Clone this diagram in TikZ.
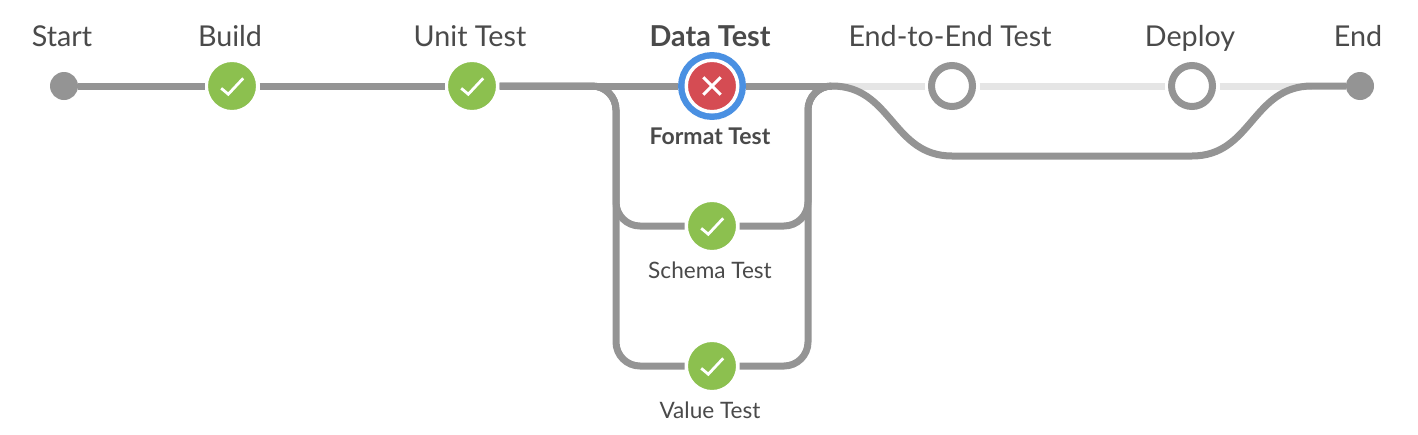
\documentclass[tikz,border=0pt]{standalone}
\usepackage{fontspec}
\setmainfont{Lato}
\definecolor{pipegray}{HTML}{949494}
\definecolor{fainted}{HTML}{E5E5E5}
\definecolor{okgreen}{HTML}{8CC04F}
\definecolor{badred}{HTML}{D54C53}
\definecolor{ringblue}{HTML}{4A90E2}
\definecolor{labelink}{HTML}{4A4A4A}
\tikzset{
  pipe/.style={draw=pipegray,line width=7pt},
  pipefaint/.style={draw=fainted,line width=7pt},
  enddot/.style={circle,fill=pipegray,minimum size=28pt,inner sep=0pt,outer sep=0pt},
  okdot/.style={circle,fill=okgreen,draw=white,line width=3.5pt,minimum size=51.5pt,inner sep=0pt,
    path picture={\draw[white,line width=2.8pt,shift={(path picture bounding box.center)}] (-10.8,2.3) -- (-3.7,8.2) -- (11.2,-7.7);}},
  baddot/.style={circle,fill=badred,draw=white,line width=3.5pt,minimum size=51.5pt,inner sep=0pt,outer sep=8pt,
    preaction={draw=ringblue,line width=16.4pt},
    path picture={\draw[white,line width=3pt,shift={(path picture bounding box.center)}] (-8.7,-8.7) -- (8.7,8.7) (-8.7,8.7) -- (8.7,-8.7);}},
  todot/.style={circle,fill=white,draw=pipegray,line width=7pt,minimum size=41pt,inner sep=0pt,outer sep=7pt,
    preaction={draw=white,line width=14pt}},
  toplabel/.style={anchor=base,inner sep=0pt,text=labelink,font=\fontsize{28.7}{32}\selectfont},
  sublabel/.style={anchor=base,inner sep=0pt,text=labelink,font=\fontsize{22.6}{26}\selectfont},
}
\begin{document}
\begin{tikzpicture}[x=1pt,y=-1pt]
\useasboundingbox (0,0) rectangle (1418,434);
\fill[white] (0,0) rectangle (1418,434);
% named nodes
\node[enddot] (start) at (64,86) {};
\node[okdot] (build) at (232,86) {};
\node[okdot] (unit) at (472,86) {};
\node[baddot] (data) at (712,86) {};
\node[okdot] (schema) at (712,226) {};
\node[okdot] (value) at (712,366) {};
\node[todot] (e2e) at (952,86) {};
\node[todot] (deploy) at (1192,86) {};
\node[enddot] (finish) at (1360,86) {};
\coordinate (lx) at (616,0);
\coordinate (rx) at (808,0);
\coordinate (join) at (832,86);
\coordinate (rejoin) at (1312,86);
\coordinate (skipA) at (952,156);
\coordinate (skipB) at (1192,156);
% connectors
\draw[pipe] (start) -- (build);
\draw[pipe] (build) -- (unit);
\draw[pipe] (unit) -- (data);
\draw[pipe] (data) -- (join);
\draw[pipe,rounded corners=24pt] (unit) -- (unit -| lx) -- (lx |- schema) -- (schema);
\draw[pipe,rounded corners=24pt] (unit) -- (unit -| lx) -- (lx |- value) -- (value);
\draw[pipe,rounded corners=24pt] (schema) -- (schema -| rx) -- (rx |- join) -- (join);
\draw[pipe,rounded corners=24pt] (value) -- (value -| rx) -- (rx |- join) -- (join);
\draw[pipefaint] (join) -- (e2e);
\draw[pipefaint] (e2e) -- (deploy);
\draw[pipefaint] (deploy) -- (rejoin);
\draw[pipe] (join) .. controls (892,86) and (892,156) .. (skipA) -- (skipB) .. controls (1252,156) and (1252,86) .. (rejoin) -- (finish);
% labels
\node[toplabel] (lstart) at (62,46) {Start};
\node[toplabel] (lbuild) at (230,46) {Build};
\node[toplabel] (lunit) at (470,46) {Unit Test};
\node[toplabel,font=\fontsize{28.8}{32}\selectfont\bfseries] (ldata) at (710,46) {Data Test};
\node[toplabel] (le2e) at (950,46) {End-to-End Test};
\node[toplabel] (ldeploy) at (1190,46) {Deploy};
\node[toplabel] (lend) at (1358,46) {End};
\node[sublabel,font=\fontsize{23}{26}\selectfont\bfseries] (lformat) at (710,144) {Format Test};
\node[sublabel] (lschema) at (710,278) {Schema Test};
\node[sublabel] (lvalue) at (710,418) {Value Test};
\end{tikzpicture}
\end{document}
